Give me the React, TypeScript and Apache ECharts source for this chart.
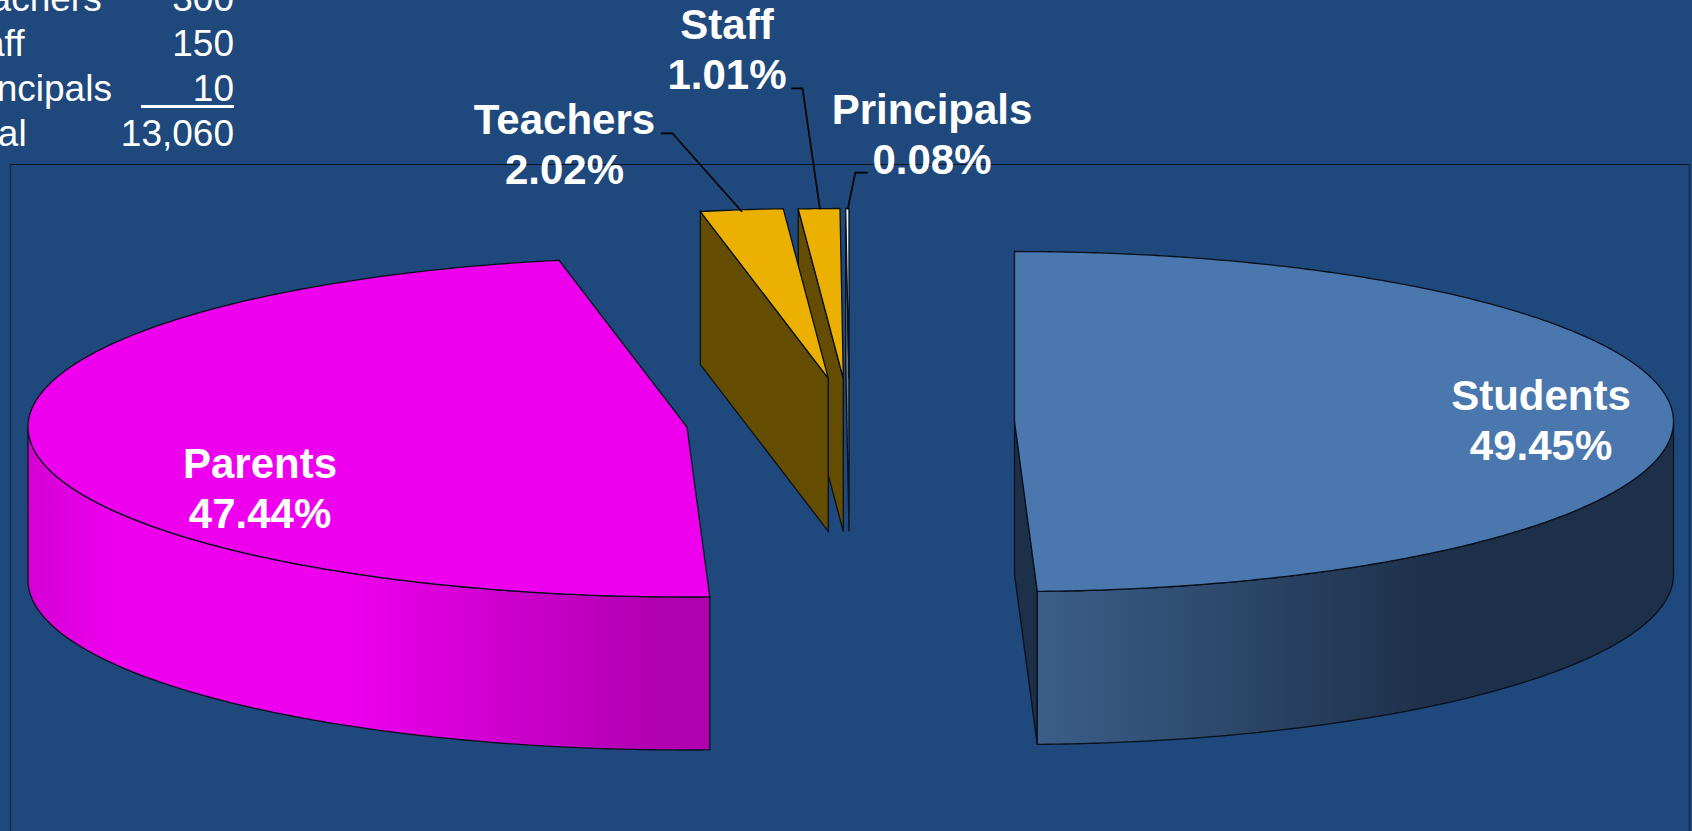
import React, { useEffect, useRef } from "react";
import * as echarts from "echarts";

// ---- data ----
const sliceNames = ["Students", "Parents", "Teachers", "Staff", "Principals"];
const sliceShares = [49.45, 47.44, 2.02, 1.01, 0.08];
const shareLabels = ["49.45%", "47.44%", "2.02%", "1.01%", "0.08%"];
const tableNames = ["Teachers", "Staff", "Principals", "Total"];
const tableCounts = ["300", "150", "10", "13,060"];

// ---- layout and style ----
const W = 1692;
const H = 831;
const BG = "#1F497C";
const RX = 659;
const RY = 170;
const DEPTH = 153;
const FONT = '"Liberation Sans", Arial, sans-serif';
const LINE = "#08101C";
const explodedCentres = [
  [1014.5, 421.5],
  [687, 427],
  [828.3, 378.3],
  [843.3, 378.5],
  [849, 378.5],
];
const topColours = ["#4A77AE", "#EE00EE", "#ECB100", "#ECB100", "#F2F2F2"];
const cutColours = ["#1D3049", "#D800D8", "#644D00", "#644D00", "#777777"];
const sideStops = [
  [[0, "#3C5E8A"], [0.62, "#1D3049"], [1, "#1D3049"]],
  [[0, "#D400D4"], [0.13, "#EE00EE"], [0.46, "#EE00EE"], [0.92, "#B000B0"], [1, "#B000B0"]],
  [[0, "#644D00"], [1, "#644D00"]],
  [[0, "#644D00"], [1, "#644D00"]],
  [[0, "#777777"], [1, "#777777"]],
];
const labelCentres = [
  [1541, 420],
  [260, 488],
  [564.5, 144.6],
  [727, 49.6],
  [932, 134.3],
];
const leaderLines: (number[][] | null)[] = [
  null,
  null,
  [[661, 133.3], [672.4, 133.3], [742, 211.7]],
  [[791.4, 88.3], [802.5, 88.3], [820, 209.3]],
  [[867.6, 172.7], [855.3, 172.7], [847.7, 209.3]],
];
const tableBaselines = [11, 56, 101, 146];
const tableNameStarts = [-48.5, -51, -48.5, -51.5];

const rad = (deg: number) => (deg * Math.PI) / 180;

function rim(c: number[], deg: number, drop = 0): number[] {
  return [c[0] + RX * Math.sin(rad(deg)), c[1] - RY * Math.cos(rad(deg)) + drop];
}

function arc(c: number[], from: number, to: number, drop = 0): number[][] {
  const pts: number[][] = [];
  const steps = Math.max(2, Math.ceil((to - from) / 0.5));
  for (let k = 0; k <= steps; k++) pts.push(rim(c, from + ((to - from) * k) / steps, drop));
  return pts;
}

function renderSlice(_: any, api: any) {
  const idx = api.value(1) as number;
  const total = sliceShares.reduce((a, b) => a + b, 0);
  const before = sliceShares.slice(0, idx).reduce((a, b) => a + b, 0);
  const a0 = (before / total) * 360;
  const a1 = a0 + ((api.value(0) as number) / total) * 360;
  const c = explodedCentres[idx];
  const children: any[] = [];
  const stroke = { stroke: LINE, lineWidth: 1.3 };

  // cut faces
  const addCut = (deg: number) =>
    children.push({
      type: "polygon",
      shape: { points: [c, rim(c, deg), rim(c, deg, DEPTH), [c[0], c[1] + DEPTH]] },
      style: { fill: cutColours[idx], ...stroke },
    });
  if (Math.sin(rad(a1)) > 0.001) addCut(a1);
  if (Math.sin(rad(a0)) < -0.001) addCut(a0);

  // outer wall (only the part in front)
  const f0 = Math.max(a0, 90);
  const f1 = Math.min(a1, 270);
  if (f1 > f0) {
    const upper = arc(c, f0, f1);
    const lower = arc(c, f0, f1, DEPTH).reverse();
    children.push({
      type: "polygon",
      shape: { points: upper.concat(lower) },
      style: {
        fill: {
          type: "linear",
          x: 0,
          y: 0,
          x2: 1,
          y2: 0,
          colorStops: sideStops[idx].map(([offset, color]) => ({ offset, color })),
        },
        ...stroke,
      },
    });
  }

  // top face
  children.push({
    type: "polygon",
    shape: { points: [c as number[]].concat(arc(c, a0, a1)) },
    style: { fill: topColours[idx], ...stroke },
  });

  // leader line
  const leader = leaderLines[idx];
  if (leader) {
    children.push({
      type: "polyline",
      shape: { points: leader },
      style: { fill: "none", stroke: "#000000", lineWidth: 1.7 },
    });
  }

  // label
  children.push({
    type: "text",
    x: labelCentres[idx][0],
    y: labelCentres[idx][1],
    z2: 100,
    style: {
      text: sliceNames[idx] + "\n" + shareLabels[idx],
      fill: "#FFFFFF",
      font: `bold 42px ${FONT}`,
      lineHeight: 50,
      align: "center",
      verticalAlign: "middle",
    },
  });

  return { type: "group", children };
}

export default function App() {
  const ref = useRef<HTMLDivElement>(null);
  useEffect(() => {
    document.body.style.margin = "0";
    document.body.style.background = BG;
    const chart = echarts.init(ref.current!, undefined, { renderer: "svg" });
    const drawOrder = [4, 3, 2, 1, 0];
    const tableTexts: any[] = [];
    tableNames.forEach((name, i) => {
      tableTexts.push({
        type: "text",
        x: tableNameStarts[i],
        y: tableBaselines[i] - 12.5,
        style: { text: name, fill: "#FFFFFF", font: `37px ${FONT}`, align: "left", verticalAlign: "middle" },
      });
      tableTexts.push({
        type: "text",
        x: 234,
        y: tableBaselines[i] - 12.5,
        style: { text: tableCounts[i], fill: "#FFFFFF", font: `37px ${FONT}`, align: "right", verticalAlign: "middle" },
      });
    });
    chart.setOption({
      animation: false,
      backgroundColor: BG,
      graphic: [
        {
          type: "line",
          z: 0,
          shape: { x1: 10.5, y1: 164.5, x2: 1689.5, y2: 164.5 },
          style: { stroke: "#0B1420", lineWidth: 1 },
        },
        {
          type: "line",
          z: 0,
          shape: { x1: 10.5, y1: 164.5, x2: 10.5, y2: H + 2 },
          style: { stroke: "#10294D", lineWidth: 1.4 },
        },
        {
          type: "line",
          z: 0,
          shape: { x1: 1689.5, y1: 164.5, x2: 1689.5, y2: H + 2 },
          style: { stroke: "#10294D", lineWidth: 1.4 },
        },
        ...tableTexts,
        {
          type: "line",
          shape: { x1: 141, y1: 106.5, x2: 234, y2: 106.5 },
          style: { stroke: "#FFFFFF", lineWidth: 3 },
        },
      ],
      series: [
        {
          type: "custom",
          coordinateSystem: "none",
          silent: true,
          z: 5,
          renderItem: renderSlice,
          data: drawOrder.map((i) => ({ name: sliceNames[i], value: [sliceShares[i], i] })),
        },
      ],
    });
    return () => chart.dispose();
  }, []);
  return <div ref={ref} style={{ width: W, height: H }} />;
}
